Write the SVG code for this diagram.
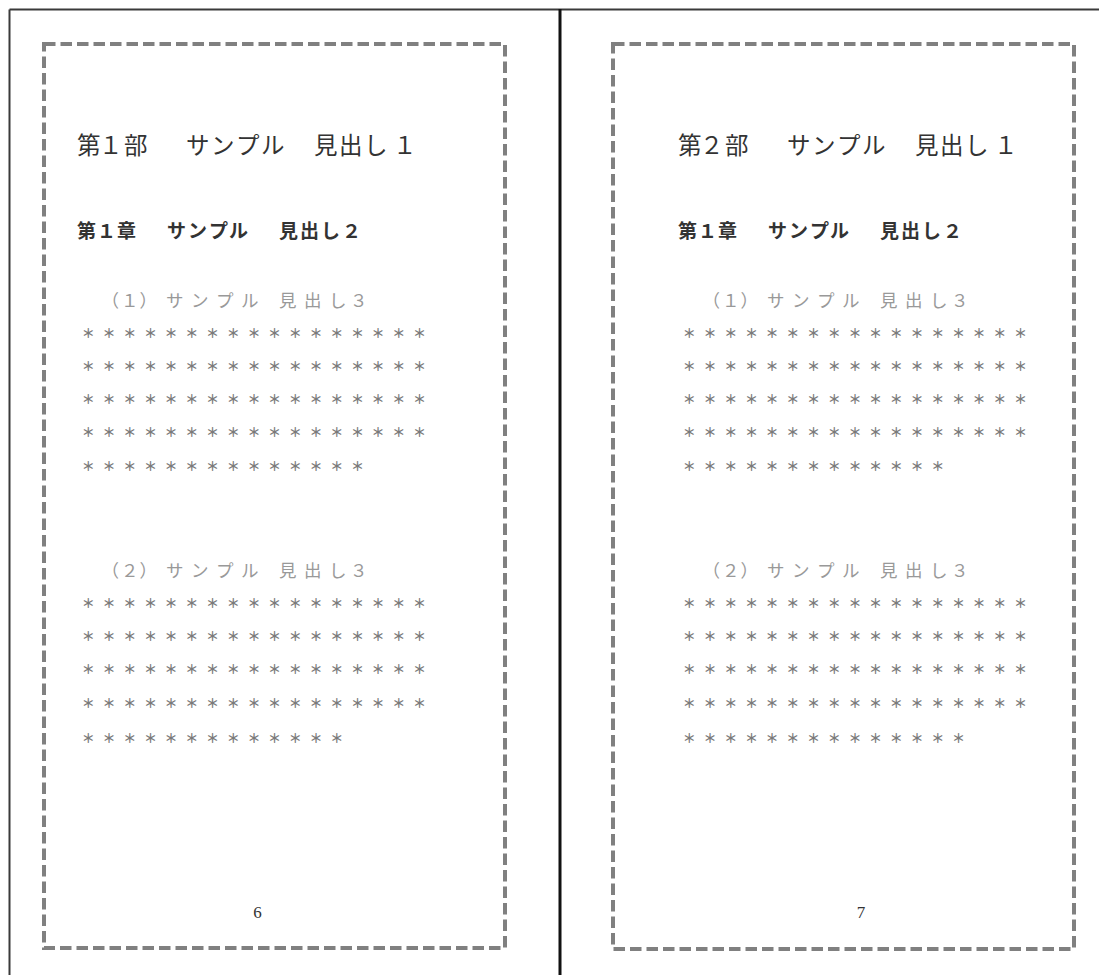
<svg xmlns="http://www.w3.org/2000/svg" width="1099" height="975" viewBox="0 0 1099 975">
<style>
.frame{stroke:#3a3a3a;stroke-width:2;fill:none}
.divider{stroke:#111;stroke-width:3;fill:none}
.dash{fill:none;stroke:#808080;stroke-width:4;stroke-dasharray:11.5 5}
.h1{font-family:"Liberation Sans","Noto Sans CJK JP",sans-serif;font-size:23.5px;fill:#333}
.h2{font-family:"Liberation Sans","Noto Sans CJK JP",sans-serif;font-size:19px;font-weight:bold;fill:#333}
.h3{font-family:"Liberation Sans","Noto Sans CJK JP",sans-serif;font-size:17.5px;fill:#999}
.ast{font-family:"Noto Sans CJK JP",sans-serif;font-size:13px;font-weight:bold;letter-spacing:7.7px;fill:#7a7a7a}
.pn{font-family:"Liberation Serif",serif;font-size:17px;fill:#333;text-anchor:middle}
</style>
<rect width="1099" height="975" fill="#fff"/>
<g id="frame">
<line class="frame" x1="9.5" y1="9.5" x2="1099" y2="9.5"/>
<line class="frame" x1="9.5" y1="9.5" x2="9.5" y2="975"/>
<line class="divider" x1="560" y1="9" x2="560" y2="975"/>
</g>
<g id="page-left">
<rect class="dash" x="44" y="44" width="461" height="904"/>
<text class="h1" x="77 99 124 155 186 211 236 261 290 314 339 364 393" y="154">第１部　サンプル　見出し１</text>
<text class="h2" x="77 97 117 145 167 188 209 229 255 279 300 321 342" y="238">第１章　サンプル　見出し２</text>
<text class="h3" x="101.5 121 139.5 166 191 216 241 262 279 304 329 350" y="306.5">（１）サンプル　見出し３</text>
<text class="ast" x="81.8" y="338">＊＊＊＊＊＊＊＊＊＊＊＊＊＊＊＊＊</text>
<text class="ast" x="81.8" y="371">＊＊＊＊＊＊＊＊＊＊＊＊＊＊＊＊＊</text>
<text class="ast" x="81.8" y="404">＊＊＊＊＊＊＊＊＊＊＊＊＊＊＊＊＊</text>
<text class="ast" x="81.8" y="437">＊＊＊＊＊＊＊＊＊＊＊＊＊＊＊＊＊</text>
<text class="ast" x="81.8" y="471">＊＊＊＊＊＊＊＊＊＊＊＊＊＊</text>
<text class="h3" x="101.5 121 139.5 166 191 216 241 262 279 304 329 350" y="576.5">（２）サンプル　見出し３</text>
<text class="ast" x="81.8" y="608">＊＊＊＊＊＊＊＊＊＊＊＊＊＊＊＊＊</text>
<text class="ast" x="81.8" y="641">＊＊＊＊＊＊＊＊＊＊＊＊＊＊＊＊＊</text>
<text class="ast" x="81.8" y="674">＊＊＊＊＊＊＊＊＊＊＊＊＊＊＊＊＊</text>
<text class="ast" x="81.8" y="708">＊＊＊＊＊＊＊＊＊＊＊＊＊＊＊＊＊</text>
<text class="ast" x="81.8" y="743">＊＊＊＊＊＊＊＊＊＊＊＊＊</text>
<text class="pn" x="257.5" y="918">6</text>
</g>
<g id="page-right">
<rect class="dash" x="613" y="44" width="461" height="905"/>
<g transform="translate(601,0)">
<text class="h1" x="77 99 124 155 186 211 236 261 290 314 339 364 393" y="154">第２部　サンプル　見出し１</text>
<text class="h2" x="77 97 117 145 167 188 209 229 255 279 300 321 342" y="238">第１章　サンプル　見出し２</text>
<text class="h3" x="101.5 121 139.5 166 191 216 241 262 279 304 329 350" y="306.5">（１）サンプル　見出し３</text>
<text class="ast" x="81.8" y="338">＊＊＊＊＊＊＊＊＊＊＊＊＊＊＊＊＊</text>
<text class="ast" x="81.8" y="371">＊＊＊＊＊＊＊＊＊＊＊＊＊＊＊＊＊</text>
<text class="ast" x="81.8" y="404">＊＊＊＊＊＊＊＊＊＊＊＊＊＊＊＊＊</text>
<text class="ast" x="81.8" y="437">＊＊＊＊＊＊＊＊＊＊＊＊＊＊＊＊＊</text>
<text class="ast" x="81.8" y="471">＊＊＊＊＊＊＊＊＊＊＊＊＊</text>
<text class="h3" x="101.5 121 139.5 166 191 216 241 262 279 304 329 350" y="576.5">（２）サンプル　見出し３</text>
<text class="ast" x="81.8" y="608">＊＊＊＊＊＊＊＊＊＊＊＊＊＊＊＊＊</text>
<text class="ast" x="81.8" y="641">＊＊＊＊＊＊＊＊＊＊＊＊＊＊＊＊＊</text>
<text class="ast" x="81.8" y="674">＊＊＊＊＊＊＊＊＊＊＊＊＊＊＊＊＊</text>
<text class="ast" x="81.8" y="708">＊＊＊＊＊＊＊＊＊＊＊＊＊＊＊＊＊</text>
<text class="ast" x="81.8" y="743">＊＊＊＊＊＊＊＊＊＊＊＊＊＊</text>
<text class="pn" x="260" y="918">7</text>
</g>
</g>
</svg>
